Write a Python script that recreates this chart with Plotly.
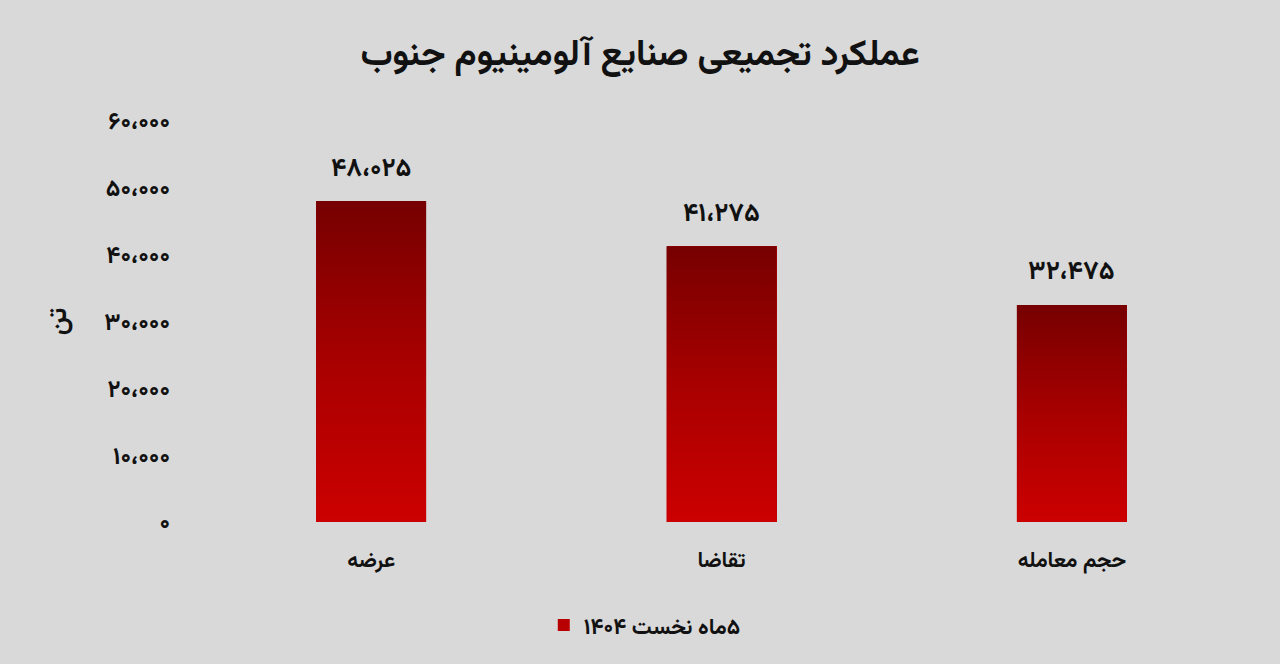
import plotly.graph_objects as go

# data
categories = ["عرضه", "تقاضا", "حجم معامله"]
values = [48025, 41275, 32475]
series_name = "\u202b۵ماه نخست ۱۴۰۴\u202c"
y_ticks = [0, 10000, 20000, 30000, 40000, 50000, 60000]

FONT = "Vazirmatn, DejaVu Sans, sans-serif"
BG = "#d9d9d9"
BAR_W = 0.314

FA_DIGITS = str.maketrans("0123456789", "۰۱۲۳۴۵۶۷۸۹")


def fa_num(n):
    # persian digits with arabic comma as thousands separator
    return f"{n:,}".replace(",", "،").translate(FA_DIGITS)


xs = list(range(len(categories)))

fig = go.Figure()

# solid base bars (also gives the legend entry)
fig.add_trace(go.Bar(
    x=xs, y=values, width=BAR_W, name=f"<b>{series_name}</b>",
    marker=dict(color="#b80000", line=dict(width=0)),
    hoverinfo="skip",
))

# vertical gradient over each bar
for x, v in zip(xs, values):
    fig.add_trace(go.Scatter(
        x=[x - BAR_W / 2, x + BAR_W / 2, x + BAR_W / 2, x - BAR_W / 2, x - BAR_W / 2],
        y=[0, 0, v, v, 0],
        mode="lines", line=dict(width=0), fill="toself",
        fillgradient=dict(type="vertical",
                          colorscale=[[0, "#cc0000"], [0.5, "#a80000"], [1, "#760000"]]),
        showlegend=False, hoverinfo="skip",
    ))

for x, v in zip(xs, values):
    fig.add_annotation(x=x, y=v, text=f"<b>{fa_num(v)}</b>", showarrow=False,
                       yshift=32, font=dict(size=26, color="#111", family=FONT))

fig.update_layout(
    width=1280, height=664,
    paper_bgcolor=BG, plot_bgcolor=BG,
    margin=dict(l=196, r=33, t=121, b=142),
    title=dict(text="<b>عملکرد تجمیعی صنایع آلومینیوم جنوب</b>", x=0.5, xanchor="center",
               y=0.921, yanchor="middle", font=dict(size=36, color="#111", family=FONT)),
    font=dict(family=FONT, color="#111"),
    showlegend=True,
    legend=dict(orientation="h", x=0.427, xanchor="center",
                y=-0.205, yanchor="top",
                font=dict(size=22, color="#111", family=FONT)),
    bargap=0,
)
fig.update_xaxes(
    range=[-0.5, len(categories) - 0.5], tickvals=xs,
    ticktext=[f"<b>{c}</b>" for c in categories],
    tickfont=dict(size=21.5, color="#111"), showgrid=False, zeroline=False,
    showline=False, ticks="", ticklabelstandoff=22,
)
fig.update_yaxes(
    range=[0, 60000], tickvals=y_ticks, ticktext=[f"<b>{fa_num(t)}</b>" for t in y_ticks],
    tickfont=dict(size=24, color="#111"), showgrid=False, zeroline=False,
    showline=False, ticks="", ticklabelstandoff=25,
    title=dict(text="<b>تن</b>", font=dict(size=26, color="#111"), standoff=30),
)

fig.write_html("out.html", config={"displayModeBar": False},
               post_script="document.body.style.margin='0';")
